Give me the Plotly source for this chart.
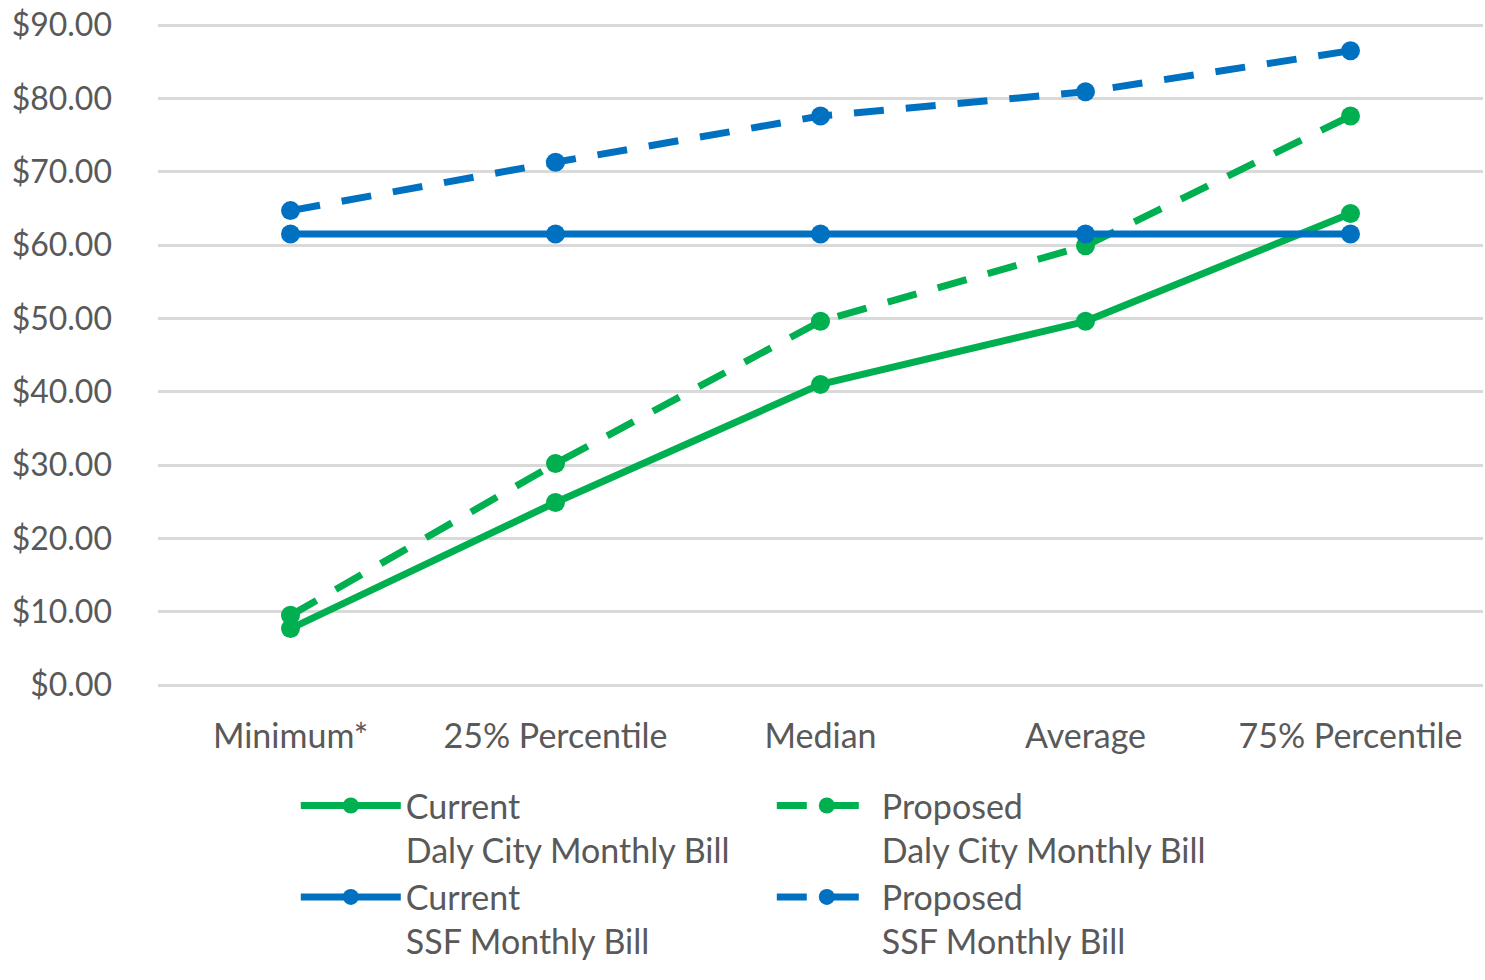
import plotly.graph_objects as go

categories = ["Minimum*", "25% Percentile", "Median", "Average", "75% Percentile"]
current_daly = [7.7, 24.9, 41.0, 49.6, 64.3]
proposed_daly = [9.5, 30.2, 49.6, 59.9, 77.6]
current_ssf = [61.5, 61.5, 61.5, 61.5, 61.5]
proposed_ssf = [64.7, 71.3, 77.6, 80.9, 86.5]

GREEN = "#00B050"
BLUE = "#0070C0"
TEXT = "#595959"
FONT = "Lato"

series = [
    ("Current<br>Daly City Monthly Bill", current_daly, GREEN, "solid"),
    ("Proposed<br>Daly City Monthly Bill", proposed_daly, GREEN, "30px,22px"),
    ("Current<br>SSF Monthly Bill", current_ssf, BLUE, "solid"),
    ("Proposed<br>SSF Monthly Bill", proposed_ssf, BLUE, "30px,22px"),
]

fig = go.Figure()
for name, vals, color, dash in series:
    fig.add_trace(go.Scatter(
        x=categories, y=vals, name=name, mode="lines+markers",
        line=dict(color=color, width=7, dash=dash),
        marker=dict(color=color, size=19),
    ))

fig.update_layout(
    width=1485, height=980,
    paper_bgcolor="white", plot_bgcolor="white",
    margin=dict(l=158, r=2, t=24, b=295),
    font=dict(family=FONT, size=34, color=TEXT),
    legend=dict(
        orientation="h", x=0.104, xanchor="left", y=-0.139, yanchor="top",
        entrywidth=361, entrywidthmode="pixels", itemwidth=100,
        valign="top", font=dict(family=FONT, size=34, color=TEXT),
        traceorder="normal", tracegroupgap=0,
    ),
)
fig.update_xaxes(
    type="category", range=[-0.5, 4.5], showgrid=False, showline=False,
    ticks="", ticklabelstandoff=28, tickfont=dict(size=34, color=TEXT, family=FONT),
)
fig.update_yaxes(
    range=[0, 90.15], dtick=10, tick0=0,
    tickprefix="$", tickformat=".2f",
    showgrid=True, gridcolor="#D9D9D9", gridwidth=2.5,
    zeroline=True, zerolinecolor="#D9D9D9", zerolinewidth=2.5,
    showline=False, ticks="", ticklabelstandoff=45,
    tickfont=dict(size=32, color=TEXT, family=FONT),
)

fig.write_html("out.html", config={"displayModeBar": False},
               post_script="document.body.style.margin='0';")
